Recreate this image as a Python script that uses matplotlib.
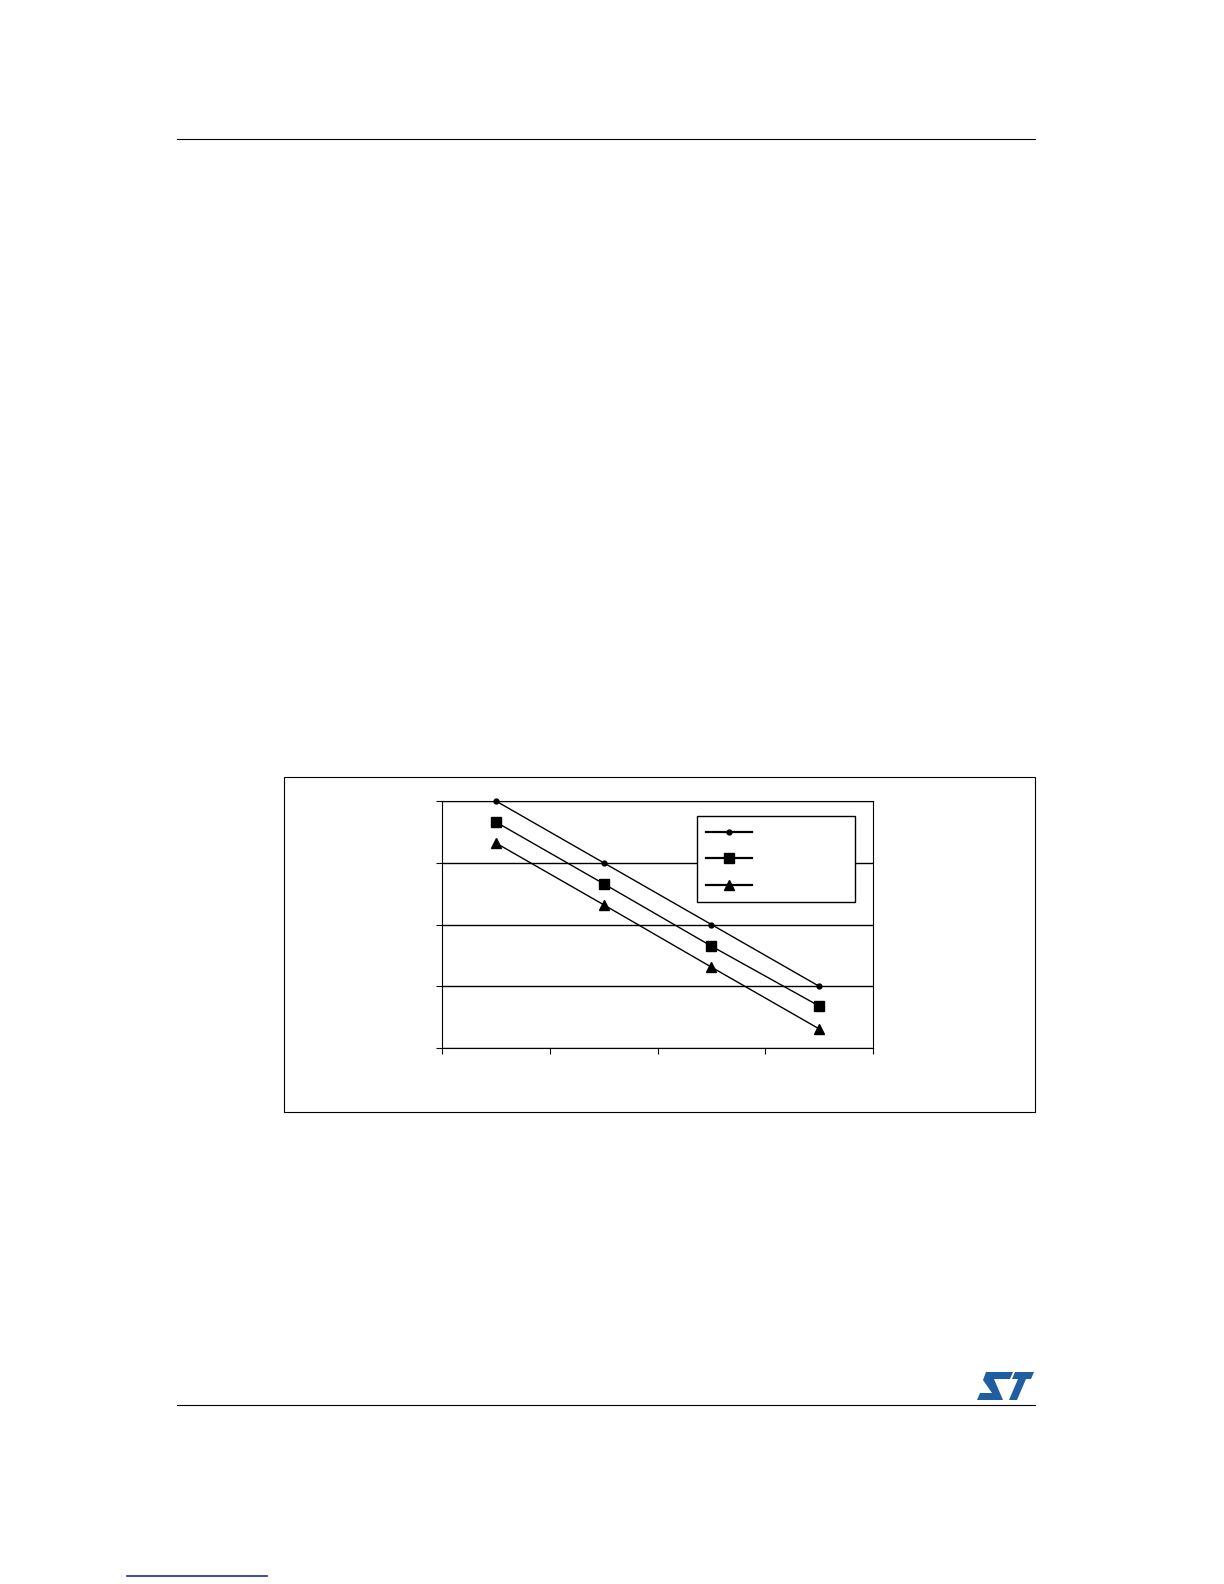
import matplotlib
matplotlib.use("Agg")
from matplotlib import pyplot as plt
from matplotlib.patches import Rectangle, Polygon
from matplotlib.lines import Line2D

# data (no labels visible)
categories = [0.5, 1.5, 2.5, 3.5]
series_circle = [4.0, 3.0, 2.0, 1.0]
series_square = [3.66, 2.66, 1.65, 0.68]
series_triangle = [3.32, 2.32, 1.31, 0.31]
series_labels = [" ", " ", " "]

W, H = 1224, 1584
fig = plt.figure(figsize=(W / 100, H / 100), dpi=100)


def fx(px):
    return px / W


def fy(py):
    return 1 - py / H


def fpoly(pts, color):
    return Polygon([(fx(a), fy(b)) for a, b in pts], closed=True,
                   transform=fig.transFigure, color=color, lw=0)


# page header / footer rules
fig.add_artist(Line2D([fx(177), fx(1035)], [fy(139), fy(139)], color="black", lw=0.8))
fig.add_artist(Line2D([fx(177), fx(1035)], [fy(1405), fy(1405)], color="black", lw=0.8))
fig.add_artist(Line2D([fx(127), fx(267)], [fy(1576), fy(1576)], color="#1a2a9a", lw=1.2))

# ST logo, rough shape
fig.add_artist(fpoly([(986, 1372), (1013, 1372), (1010, 1379), (994, 1379),
                      (1003, 1400), (977, 1400), (980, 1393), (992, 1393),
                      (983, 1380)], "#1f5ea0"))
fig.add_artist(fpoly([(1015, 1372), (1034, 1372), (1031, 1379), (1026, 1379),
                      (1017, 1400), (1009, 1400), (1018, 1379), (1012, 1379)],
                     "#1f5ea0"))

# outer chart frame
fig.add_artist(Rectangle((fx(284), fy(1112)), fx(1035) - fx(284), fy(777) - fy(1112),
                         transform=fig.transFigure, fill=False, ec="black", lw=0.8))

ax = fig.add_axes([fx(442), fy(1048), fx(873) - fx(442), fy(801) - fy(1048)])

ax.plot(categories, series_circle, color="black", lw=1.0, marker="o", ms=3.5,
        label=series_labels[0], clip_on=False)
ax.plot(categories, series_square, color="black", lw=1.0, marker="s", ms=6.5,
        label=series_labels[1], clip_on=False)
ax.plot(categories, series_triangle, color="black", lw=1.0, marker="^", ms=7.5,
        label=series_labels[2], clip_on=False)

ax.set_xlim(0, 4)
ax.set_ylim(0, 4)
ax.set_xticks([0, 1, 2, 3, 4])
ax.set_yticks([0, 1, 2, 3, 4])
ax.set_xticklabels([])
ax.set_yticklabels([])
ax.tick_params(direction="out", length=4, width=0.8)
ax.yaxis.grid(True, color="black", lw=1.0)
ax.set_axisbelow(True)
for s in ax.spines.values():
    s.set_linewidth(0.8)

leg = ax.legend(loc="upper left", bbox_to_anchor=(0.592, 0.939, 0.366, 0.0),
                mode="expand", fontsize=11, labelspacing=0.75, handlelength=3.0,
                borderpad=0.6, frameon=True, fancybox=False, borderaxespad=0,
                framealpha=1.0)
leg.get_frame().set_edgecolor("black")
leg.get_frame().set_linewidth(1.0)
for h in leg.get_lines():
    h.set_linewidth(1.6)

fig.savefig("out.png", dpi=100)
